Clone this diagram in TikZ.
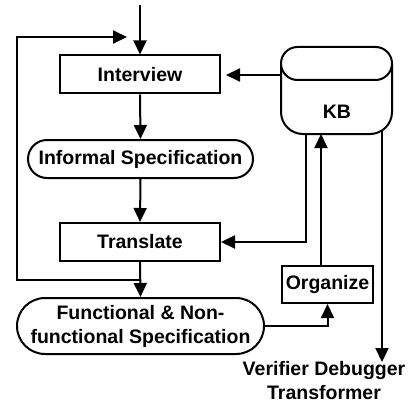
\documentclass[tikz,border=0pt]{standalone}
\usepackage{fontspec}
\setmainfont{Liberation Sans}
\usetikzlibrary{arrows.meta,shapes.misc,calc}
\begin{document}
\begin{tikzpicture}[x=1pt,y=-1pt,
  line width=2pt,
  font=\fontsize{19.5}{24}\selectfont\bfseries,
  arr/.style={-{Triangle[length=14pt,width=13pt]}},
  box/.style={draw,rectangle,inner sep=0pt},
  rbox/.style={draw,rounded rectangle,inner sep=0pt},
]
\useasboundingbox (0,0) rectangle (410,404);
% nodes
\node[box,minimum width=160,minimum height=38] (interview) at (140,74.5) {Interview};
\node[rbox,minimum width=225,minimum height=38] (informal) at (140.5,159) {Informal Specification};
\node[box,minimum width=160,minimum height=38] (translate) at (140,242) {Translate};
\node[rbox,minimum width=247,minimum height=56,align=center] (func) at (140.5,326) {Functional \& Non-\\functional Specification};
\node[box,minimum width=91,minimum height=37] (organize) at (327.5,284.5) {Organize};
% KB cylinder
\draw[rounded corners=22] (281,64) -- (281,134) -- (392,134) -- (392,64);
\draw[fill=white,rounded corners=16.5] (281,47) rectangle (392,80);
\node[minimum width=111,minimum height=87,inner sep=0pt] (kb) at (336.5,90.5) {};
\node (kbl) at (337,112) {KB};
\node[align=center,inner sep=0pt] (out) at (324,381) {Verifier Debugger\\Transformer};
% coordinates
\coordinate (top) at (140,5);
\coordinate (fbtip) at (127,37);
\coordinate (fbc) at (17,37);
\coordinate (j) at (140,279.5);
\coordinate (kbt) at (306,134);
\coordinate (kbin) at (321,134);
\coordinate (kbo) at (382,131);
\coordinate (outtip) at (382,362);
% connectors
\draw[arr] (top) -- (interview.north);
\draw[arr] (interview.south) -- (informal.north);
\draw[arr] (informal.south) -- (translate.north);
\draw[arr] (translate.south) -- (func.north);
\draw[arr] (j) -| (fbc) -- (fbtip);
\draw[arr,shorten >=5pt] (kb.west |- 0,75) -- (interview.east |- 0,75);
\draw[arr] (kbt) |- (translate.east);
\draw[arr] (func.east) -| (organize.south);
\draw[arr] (organize.north -| kbin) -- (kbin);
\draw[arr] (kbo) -- (outtip);
\end{tikzpicture}
\end{document}
